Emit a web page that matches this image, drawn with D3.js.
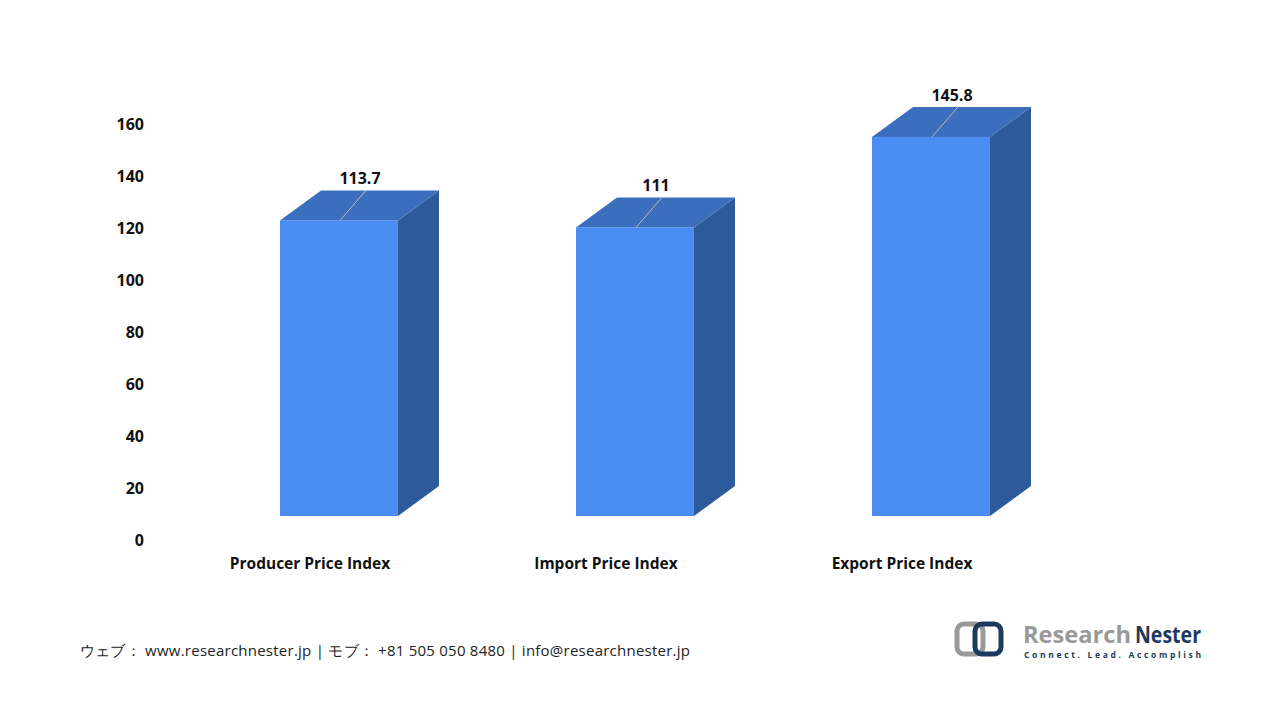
<!DOCTYPE html>
<html lang="en">
<head>
<meta charset="UTF-8">
<title>Price Index</title>
<script src="https://d3js.org/d3.v7.min.js"></script>
<style>
  body { margin: 0; background: #fff; }
  text { font-family: "Open Sans", "Noto Sans", sans-serif; }
</style>
</head>
<body>
<div id="chart"></div>
<script>
const categories = ["Producer Price Index", "Import Price Index", "Export Price Index"];
const values = [113.7, 111, 145.8];
const yTicks = [0, 20, 40, 60, 80, 100, 120, 140, 160];

const svg = d3.select("#chart").append("svg").attr("width", 1280).attr("height", 720);

const x = d3.scalePoint().domain(categories).range([310, 902]);
const y = d3.scaleLinear().domain([0, 160]).range([540, 124]);

// 3D offsets
const floor = 24, dx = 41, dy = -30, barW = 118;

// y axis labels only
svg.append("g").selectAll("text").data(yTicks).join("text")
    .attr("x", 144).attr("y", d => y(d) + 6)
    .attr("text-anchor", "end")
    .attr("font-size", 16).attr("font-weight", "bold").attr("fill", "#111")
    .text(d => d);

const bars = svg.append("g").selectAll("g").data(categories).join("g");

bars.each(function(c, i) {
    const g = d3.select(this);
    const x0 = x(c) - 30, x1 = x0 + barW;
    const yb = y(0) - floor, yt = y(values[i]) - floor;
    g.append("path")
        .attr("d", `M${x1},${yt}L${x1 + dx},${yt + dy}L${x1 + dx},${yb + dy}L${x1},${yb}Z`)
        .attr("fill", "#2D5A9A");
    g.append("path")
        .attr("d", `M${x0},${yt}L${x0 + dx},${yt + dy}L${x1 + dx},${yt + dy}L${x1},${yt}Z`)
        .attr("fill", "#3B6EBD");
    g.append("rect")
        .attr("x", x0).attr("y", yt).attr("width", barW).attr("height", yb - yt)
        .attr("fill", "#4A8DF2");
    g.append("line")
        .attr("x1", x0 + 60).attr("y1", yt)
        .attr("x2", x0 + 86).attr("y2", yt + dy)
        .attr("stroke", "#bbb").attr("stroke-width", 1);
    g.append("text")
        .attr("x", x0 + 80).attr("y", yt + dy - 6)
        .attr("text-anchor", "middle")
        .attr("font-size", 16).attr("font-weight", "bold").attr("fill", "#111")
        .text(values[i]);
});

// category labels
svg.append("g").selectAll("text").data(categories).join("text")
    .attr("x", d => x(d)).attr("y", 569)
    .attr("text-anchor", "middle")
    .attr("font-size", 15.5).attr("font-weight", "bold").attr("fill", "#111")
    .text(d => d);

// footer
svg.append("text")
    .attr("x", 80).attr("y", 656)
    .attr("font-size", 15).attr("fill", "#222")
    .attr("textLength", 610).attr("lengthAdjust", "spacing")
    .text("ウェブ：  www.researchnester.jp  | モブ：  +81 505 050 8480 | info@researchnester.jp");

// logo
const logo = svg.append("g").attr("transform", "translate(955,622)");
logo.append("rect").attr("x", 2).attr("y", 2).attr("width", 26).attr("height", 30).attr("rx", 7)
    .attr("fill", "none").attr("stroke", "#999").attr("stroke-width", 5);
logo.append("rect").attr("x", 20).attr("y", 2).attr("width", 26).attr("height", 30).attr("rx", 7)
    .attr("fill", "none").attr("stroke", "#1c3a5e").attr("stroke-width", 5);
logo.append("text").attr("x", 68).attr("y", 21)
    .attr("font-family", "Roboto").attr("font-size", 24).attr("font-weight", "bold")
    .attr("fill", "#999").attr("textLength", 108).attr("lengthAdjust", "spacingAndGlyphs").text("Research");
logo.append("text").attr("x", 180).attr("y", 21)
    .attr("font-family", "Roboto").attr("font-size", 24).attr("font-weight", "bold")
    .attr("fill", "#1c3a5e").attr("textLength", 66).attr("lengthAdjust", "spacingAndGlyphs").text("Nester");
logo.append("text").attr("x", 69).attr("y", 36)
    .attr("font-family", "DejaVu Sans Mono").attr("font-size", 8.5).attr("font-weight", "bold")
    .attr("fill", "#1c3a5e").attr("textLength", 177).text("Connect. Lead. Accomplish");
</script>
</body>
</html>
